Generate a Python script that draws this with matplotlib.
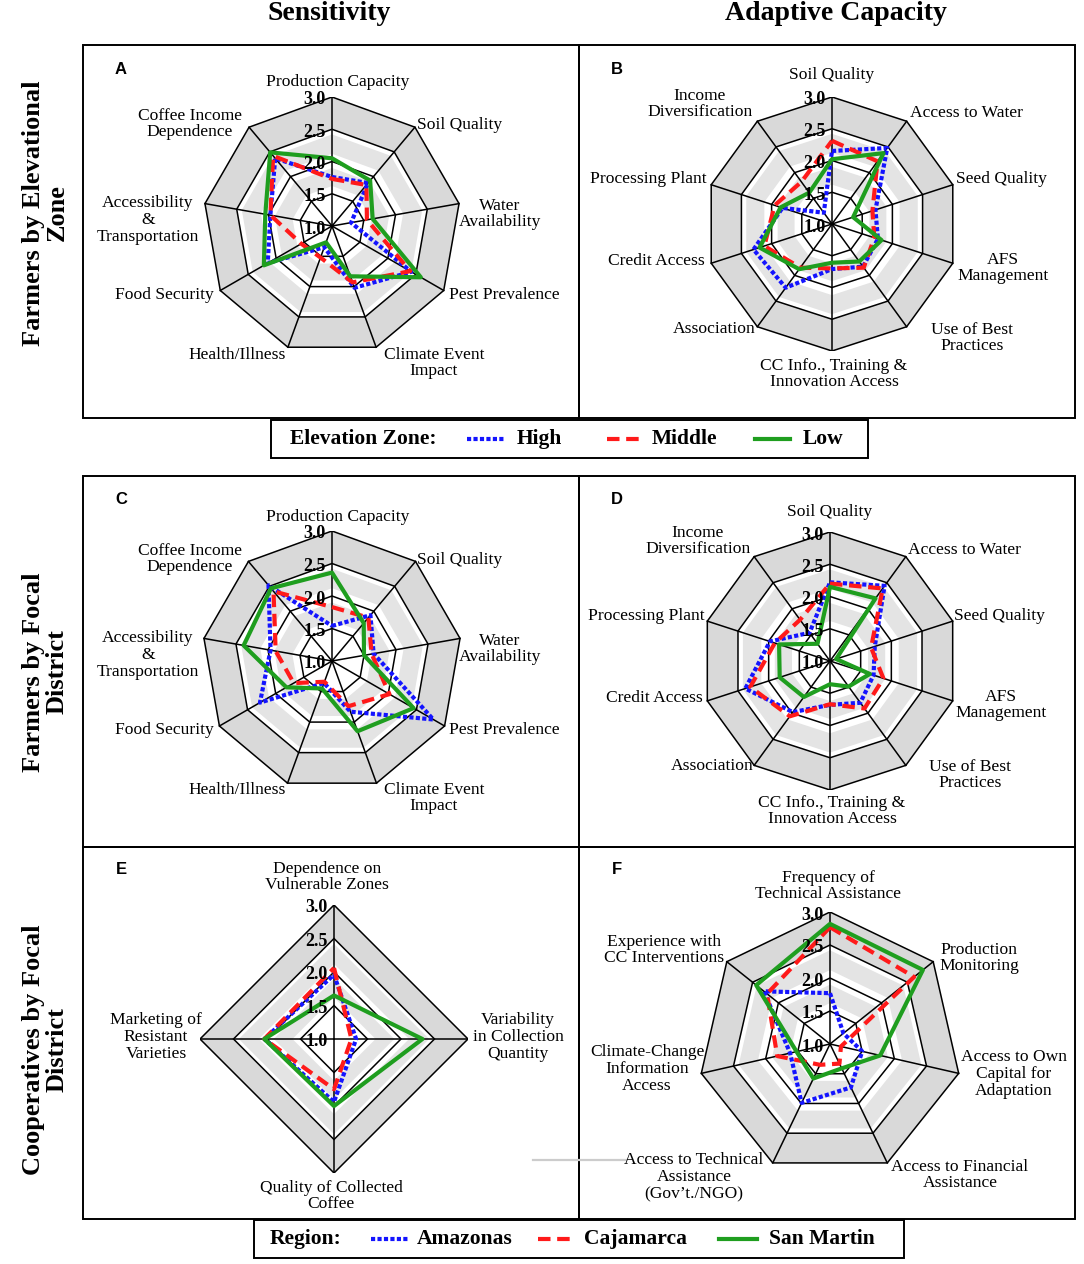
import numpy as np
import matplotlib
matplotlib.use("Agg")
import matplotlib.pyplot as plt
from matplotlib.patches import Rectangle, Polygon

# ---------------- data ----------------
sens_labels = ["Production Capacity", "Soil Quality", "Water\nAvailability", "Pest Prevalence",
               "Climate Event\nImpact", "Health/Illness", "Food Security",
               "Accessibility\n&\nTransportation", "Coffee Income\nDependence"]
adapt_labels = ["Soil Quality", "Access to Water", "Seed Quality", "AFS\nManagement",
                "Use of Best\nPractices", "CC Info., Training &\nInnovation Access", "Association",
                "Credit Access", "Processing Plant", "Income\nDiversification"]
coopS_labels = ["Dependence on\nVulnerable Zones", "Variability\nin Collection\nQuantity",
                "Quality of Collected\nCoffee", "Marketing of\nResistant\nVarieties"]
coopA_labels = ["Frequency of\nTechnical Assistance", "Production\nMonitoring",
                "Access to Own\nCapital for\nAdaptation", "Access to Financial\nAssistance",
                "Access to Technical\nAssistance\n(Gov\u2019t./NGO)", "Climate-Change\nInformation\nAccess",
                "Experience with\nCC Interventions"]

zone_names = ["High", "Middle", "Low"]
region_names = ["Amazonas", "Cajamarca", "San Martin"]
tick_values = [1.0, 1.5, 2.0, 2.5, 3.0]

A_high = [1.76, 1.87, 1.30, 2.42, 2.02, 1.35, 2.15, 1.97, 2.37]
A_mid = [1.73, 1.83, 1.55, 2.40, 1.93, 1.52, 1.55, 1.97, 2.42]
A_low = [2.05, 1.92, 1.64, 2.59, 1.83, 1.27, 2.22, 2.05, 2.49]

B_high = [2.15, 2.48, 1.72, 1.76, 1.83, 1.71, 2.24, 2.30, 1.82, 1.22]
B_mid = [2.31, 2.22, 1.67, 1.70, 1.85, 1.70, 1.85, 2.12, 1.95, 1.82]
B_low = [2.02, 2.38, 1.35, 1.82, 1.73, 1.61, 1.88, 2.20, 1.85, 1.61]

C_ama = [1.54, 1.92, 1.65, 2.80, 1.83, 1.36, 2.28, 1.96, 2.52]
C_caj = [1.83, 1.87, 1.62, 2.02, 1.74, 1.34, 1.68, 1.88, 2.40]
C_sm = [2.36, 1.76, 1.50, 2.45, 2.15, 1.45, 1.81, 2.38, 2.46]

D_ama = [2.22, 2.44, 1.73, 1.71, 1.80, 1.68, 1.98, 2.38, 1.98, 1.54]
D_caj = [2.20, 2.39, 1.67, 1.87, 1.91, 1.67, 2.06, 2.30, 1.90, 1.79]
D_sm = [2.15, 2.20, 1.10, 1.65, 1.49, 1.36, 1.69, 1.82, 1.83, 1.33]

E_ama = [1.96, 1.33, 1.94, 2.04]
E_caj = [2.06, 1.26, 1.75, 2.04]
E_sm = [1.65, 2.32, 2.00, 2.04]

F_ama = [1.77, 1.26, 1.50, 1.73, 1.99, 1.62, 2.28]
F_caj = [2.77, 2.63, 1.17, 1.33, 1.35, 1.82, 2.22]
F_sm = [2.82, 2.80, 1.78, 1.41, 1.58, 1.52, 2.43]

# ---------------- styles ----------------
W, H, DPI = 1084, 1264, 100
SERIF = ["Liberation Serif", "DejaVu Serif"]
SANS = ["Liberation Sans", "DejaVu Sans"]
BLUE, RED, GREEN = "#1414ff", "#ff1a1a", "#1f9e1f"
STYLES = [dict(color=BLUE, lw=3.0, ls=(0, (1.0, 0.55))),
          dict(color=RED, lw=3.0, ls=(0, (3.0, 1.6))),
          dict(color=GREEN, lw=3.0, ls="-")]

fig = plt.figure(figsize=(W / DPI, H / DPI), dpi=DPI)
canvas = fig.add_axes([0, 0, 1, 1], zorder=0)
canvas.set_xlim(0, W)
canvas.set_ylim(H, 0)
canvas.axis("off")

# panel boxes
for (x0, y0, x1, y1) in [(83, 45, 579, 418), (579, 45, 1075, 418),
                         (83, 476, 579, 847), (579, 476, 1075, 847),
                         (83, 847, 579, 1219), (579, 847, 1075, 1219)]:
    canvas.add_patch(Rectangle((x0, y0), x1 - x0, y1 - y0, fill=False, ec="black", lw=1.4))

# headers
canvas.text(329, 13, "Sensitivity", family=SERIF, fontsize=20, fontweight="bold", ha="center", va="center")
canvas.text(836, 13, "Adaptive Capacity", family=SERIF, fontsize=20, fontweight="bold", ha="center", va="center")
for yc, txt in [(213, "Farmers by Elevational\nZone"), (672, "Farmers by Focal\nDistrict"),
                (1050, "Cooperatives by Focal\nDistrict")]:
    canvas.text(45, yc, txt, family=SERIF, fontsize=19, fontweight="bold", rotation=90,
                ha="center", va="center", multialignment="center", linespacing=1.05)

# panel letters
for (x, y, t) in [(121, 70, "A"), (617, 70, "B"), (121, 499, "C"), (617, 499, "D"),
                  (121, 870, "E"), (617, 870, "F")]:
    canvas.text(x, y, t, family=SANS, fontsize=12, fontweight="bold", ha="center", va="center")

# stray grey line in panel F
canvas.plot([533, 626], [1160, 1160], color="#cccccc", lw=1.6)


def radar(cx, cy, R, labels, series, offsets):
    S = R
    ax = fig.add_axes([(cx - S) / W, 1 - (cy + S) / H, 2 * S / W, 2 * S / H], zorder=2)
    ax.set_xlim(-2, 2)
    ax.set_ylim(-2, 2)
    ax.axis("off")
    ax.patch.set_alpha(0)
    n = len(labels)
    ang = np.arange(n) * 2 * np.pi / n
    ux, uy = np.sin(ang), np.cos(ang)

    def poly(r):
        return np.column_stack([r * ux, r * uy])

    # alternating bands (outer to inner)
    for r, c in [(2.0, "#d9d9d9"), (1.5, "white"), (1.42, "#e4e4e4"), (1.12, "white"),
                 (0.9, "#e4e4e4"), (0.62, "white")]:
        ax.add_patch(Polygon(poly(r), closed=True, fc=c, ec="none", zorder=1))
    for r in [0.5, 1.0, 1.5, 2.0]:
        ax.add_patch(Polygon(poly(r), closed=True, fill=False, ec="black", lw=1.1, zorder=2))
    for k in range(n):
        ax.plot([0, 2 * ux[k]], [0, 2 * uy[k]], color="black", lw=1.1, zorder=2)

    for vals, st in zip(series, STYLES):
        r = np.asarray(vals, dtype=float) - 1.0
        ax.add_patch(Polygon(np.column_stack([r * ux, r * uy]), closed=True, fill=False,
                             ec=st["color"], lw=st["lw"], linestyle=st["ls"],
                             joinstyle="round", capstyle="butt", zorder=4))

    for v in tick_values:
        ax.annotate(f"{v:.1f}", xy=(0, v - 1.0), xytext=(-6, -3), textcoords="offset pixels",
                    ha="right", va="center", family=SERIF, fontsize=13, fontweight="bold",
                    annotation_clip=False, zorder=5)
    for lab, (dx, dy) in zip(labels, offsets):
        ax.annotate(lab, xy=(0, 0), xytext=(dx, -dy), textcoords="offset pixels",
                    ha="center", va="center", multialignment="center", family=SERIF,
                    fontsize=12.6, linespacing=1.08, annotation_clip=False, zorder=5)
    return ax


SENS_OFF = [(6, -144), (128, -101), (168, -12), (172, 69), (102, 137), (-95, 129),
            (-168, 69), (-184, -6), (-142, -102)]
ADAPT_OFF = [(0, -149), (135, -111), (169, -45), (171, 44), (140, 114), (2, 150),
             (-118, 105), (-176, 37), (-184, -45), (-132, -120)]
E_OFF = [(-7, -162), (184, -2), (-3, 157), (-178, -2)]
F_OFF = [(-2, -158), (149, -86), (184, 30), (130, 131), (-136, 133), (-183, 25), (-166, -94)]

radar(332, 226, 129, sens_labels, [A_high, A_mid, A_low], SENS_OFF)
radar(832, 224, 127, adapt_labels, [B_high, B_mid, B_low], ADAPT_OFF)
radar(332, 661, 130, sens_labels, [C_ama, C_caj, C_sm], SENS_OFF)
radar(830, 661, 129, adapt_labels, [D_ama, D_caj, D_sm], ADAPT_OFF)
radar(334, 1039, 134, coopS_labels, [E_ama, E_caj, E_sm], E_OFF)
radar(830, 1044, 132, coopA_labels, [F_ama, F_caj, F_sm], F_OFF)


# legends (drawn manually)
def legend(box, title, title_x, names, samples, text_xs):
    x0, y0, x1, y1 = box
    canvas.add_patch(Rectangle((x0, y0), x1 - x0, y1 - y0, fill=False, ec="black", lw=1.4, zorder=3))
    yc = (y0 + y1) / 2
    canvas.text(title_x, yc, title, family=SERIF, fontsize=15.5, fontweight="bold", ha="left", va="center")
    for name, (sx0, sx1), tx, st in zip(names, samples, text_xs, STYLES):
        canvas.plot([sx0, sx1], [yc, yc], color=st["color"], lw=st["lw"], linestyle=st["ls"],
                    dash_capstyle="butt")
        canvas.text(tx, yc, name, family=SERIF, fontsize=15.5, fontweight="bold", ha="left", va="center")


legend((271, 420, 868, 458), "Elevation Zone:", 290, zone_names,
       [(467, 505), (607, 640), (755, 790)], [517, 652, 803])
legend((254, 1220, 904, 1258), "Region:", 270, region_names,
       [(371, 408), (538, 572), (719, 757)], [417, 584, 769])

fig.savefig("out.png", dpi=DPI, facecolor="white")
